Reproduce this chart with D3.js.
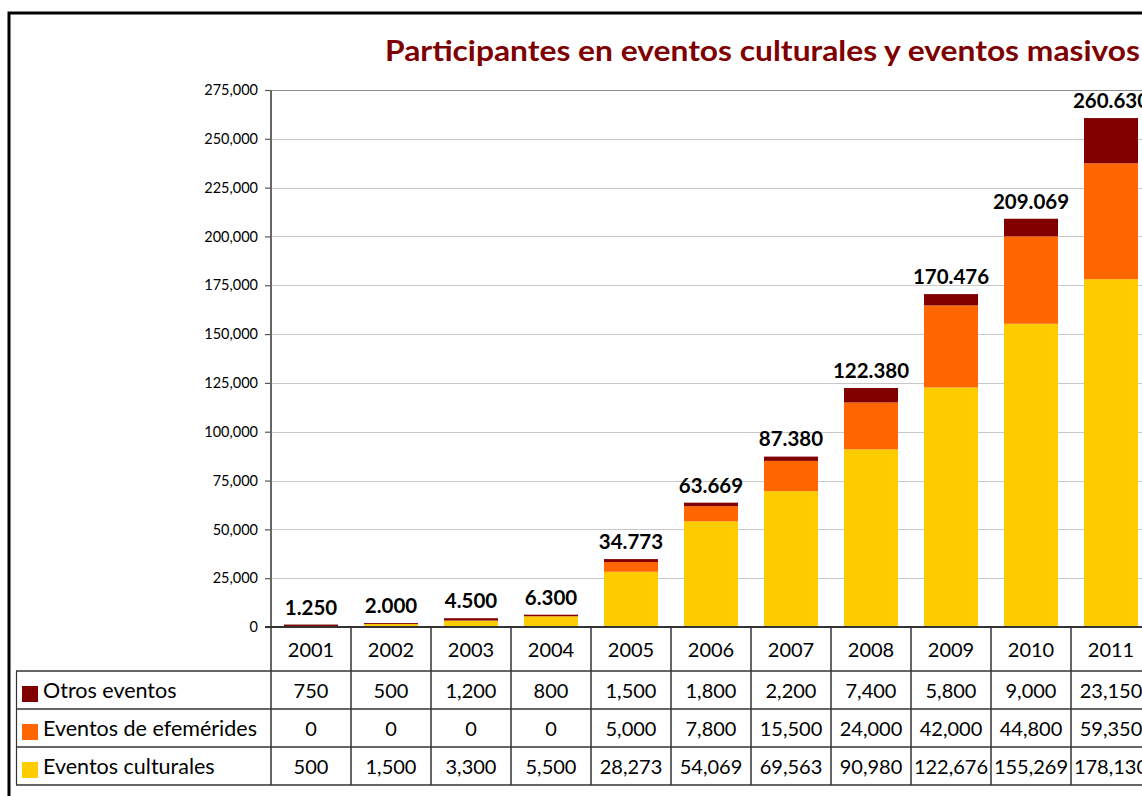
<!DOCTYPE html>
<meta charset="utf-8">
<style>
    body { margin: 0; background: #fff; }
    text { font-family: Lato, "Open Sans", sans-serif; fill: #000; }
</style>
<svg width="1142" height="796"></svg>
<script src="https://d3js.org/d3.v7.min.js"></script>
<script>
    var years = ["2001", "2002", "2003", "2004", "2005", "2006", "2007", "2008", "2009", "2010", "2011"];
    var otros = [750, 500, 1200, 800, 1500, 1800, 2200, 7400, 5800, 9000, 23150];
    var efemerides = [0, 0, 0, 0, 5000, 7800, 15500, 24000, 42000, 44800, 59350];
    var culturales = [500, 1500, 3300, 5500, 28273, 54069, 69563, 90980, 122676, 155269, 178130];
    var totales = [1250, 2000, 4500, 6300, 34773, 63669, 87380, 122380, 170476, 209069, 260630];
    var yTicks = [0, 25000, 50000, 75000, 100000, 125000, 150000, 175000, 200000, 225000, 250000, 275000];
    var seriesNames = ["Otros eventos", "Eventos de efemérides", "Eventos culturales"];
    var seriesColors = ["#800000", "#ff6600", "#ffcc00"];

    var svg = d3.select("svg");
    var x0 = 271, x1 = 1151, yTop = 90, yBase = 627;
    var rowH = [671, 709, 747, 785];

    var x = d3.scaleBand().domain(years).range([x0, x1])
        .paddingInner(0.325).paddingOuter(0.1625);
    var y = d3.scaleLinear().domain([0, 275000]).range([yBase, yTop]);

    // outer frame
    svg.append("rect").attr("x", 9).attr("y", 13).attr("width", 1200).attr("height", 900)
        .attr("fill", "none").attr("stroke", "#000").attr("stroke-width", 3);

    // title
    svg.append("text").attr("x", 385).attr("y", 61)
        .attr("textLength", 755).attr("lengthAdjust", "spacingAndGlyphs")
        .style("font-size", "28px").style("font-weight", "bold").style("fill", "#7f0000")
        .text("Participantes en eventos culturales y eventos masivos");

    // gridlines
    svg.append("g").selectAll("line").data(yTicks.filter(function (d) { return d > 0; }))
        .enter().append("line")
        .attr("x1", x0).attr("x2", 1142)
        .attr("y1", function (d) { return Math.round(y(d)) + 0.5; })
        .attr("y2", function (d) { return Math.round(y(d)) + 0.5; })
        .attr("stroke", function (d) { return d == 275000 ? "#8c8c8c" : "#c8c8c8"; })
        .attr("stroke-width", 1.2);

    // stacked bars
    var table = years.map(function (yr, i) {
        return { year: yr, cult: culturales[i], efe: efemerides[i], otros: otros[i] };
    });
    var stack = d3.stack().keys(["cult", "efe", "otros"])(table);
    var colorByKey = { otros: seriesColors[0], efe: seriesColors[1], cult: seriesColors[2] };
    svg.append("g").selectAll("g").data(stack).enter().append("g")
        .attr("fill", function (s) { return colorByKey[s.key]; })
        .selectAll("rect").data(function (s) { return s; }).enter().append("rect")
        .attr("x", function (d) { return x(d.data.year); })
        .attr("width", x.bandwidth())
        .attr("y", function (d) { return y(d[1]); })
        .attr("height", function (d) { return y(d[0]) - y(d[1]); });

    // total labels
    var fmtDot = function (v) { return d3.format(",")(v).replace(/,/g, "."); };
    svg.append("g").selectAll("text").data(totales).enter().append("text")
        .attr("x", function (d, i) { return x(years[i]) + x.bandwidth() / 2; })
        .attr("y", function (d) { return y(d) - 10; })
        .attr("text-anchor", "middle")
        .style("font-size", "20.5px").style("font-weight", "bold")
        .text(fmtDot);

    // y axis
    var yAxis = svg.append("g").attr("transform", "translate(" + x0 + ",0)")
        .call(d3.axisLeft(y).tickValues(yTicks).tickSize(6).tickPadding(7).tickFormat(d3.format(",")));
    yAxis.select(".domain").remove();
    yAxis.selectAll(".tick line").attr("stroke", "#555").attr("stroke-width", 1.2);
    yAxis.selectAll(".tick text").style("font-family", "Lato, sans-serif").style("font-size", "14.5px").attr("fill", "#000");

    // axis line & base line
    svg.append("line").attr("x1", x0).attr("x2", x0).attr("y1", yTop).attr("y2", rowH[3])
        .attr("stroke", "#666").attr("stroke-width", 2);
    svg.append("line").attr("x1", x0 - 6).attr("x2", 1142).attr("y1", yBase).attr("y2", yBase)
        .attr("stroke", "#333").attr("stroke-width", 2);

    // data table grid
    var tg = svg.append("g");
    years.forEach(function (yr, i) {
        var xb = x0 + (x1 - x0) / years.length * (i + 1);
        tg.append("line").attr("x1", xb).attr("x2", xb).attr("y1", yBase).attr("y2", rowH[3])
            .attr("stroke", "#333").attr("stroke-width", 1.5);
    });
    rowH.forEach(function (ry) {
        tg.append("line").attr("x1", 16).attr("x2", 1142).attr("y1", ry).attr("y2", ry)
            .attr("stroke", "#333").attr("stroke-width", 1.5);
    });
    tg.append("line").attr("x1", 16.5).attr("x2", 16.5).attr("y1", rowH[0]).attr("y2", rowH[3])
        .attr("stroke", "#333").attr("stroke-width", 1.2);

    // year header
    tg.selectAll("text.yr").data(years).enter().append("text")
        .attr("x", function (d) { return x(d) + x.bandwidth() / 2; })
        .attr("y", yBase + 30)
        .attr("text-anchor", "middle").style("font-size", "20px")
        .text(function (d) { return d; });

    // table rows
    var rows = [otros, efemerides, culturales];
    rows.forEach(function (vals, r) {
        var mid = (rowH[r] + rowH[r + 1]) / 2;
        var cy = mid + 8;
        tg.append("rect").attr("x", 22).attr("y", mid - 4).attr("width", 16).attr("height", 16)
            .attr("fill", seriesColors[r]);
        tg.append("text").attr("x", 43).attr("y", cy).style("font-size", "21.5px").text(seriesNames[r]);
        tg.selectAll("text.r" + r).data(vals).enter().append("text")
            .attr("x", function (d, i) { return x(years[i]) + x.bandwidth() / 2; })
            .attr("y", cy)
            .attr("text-anchor", "middle").style("font-size", "20px")
            .text(d3.format(","));
    });
</script>
